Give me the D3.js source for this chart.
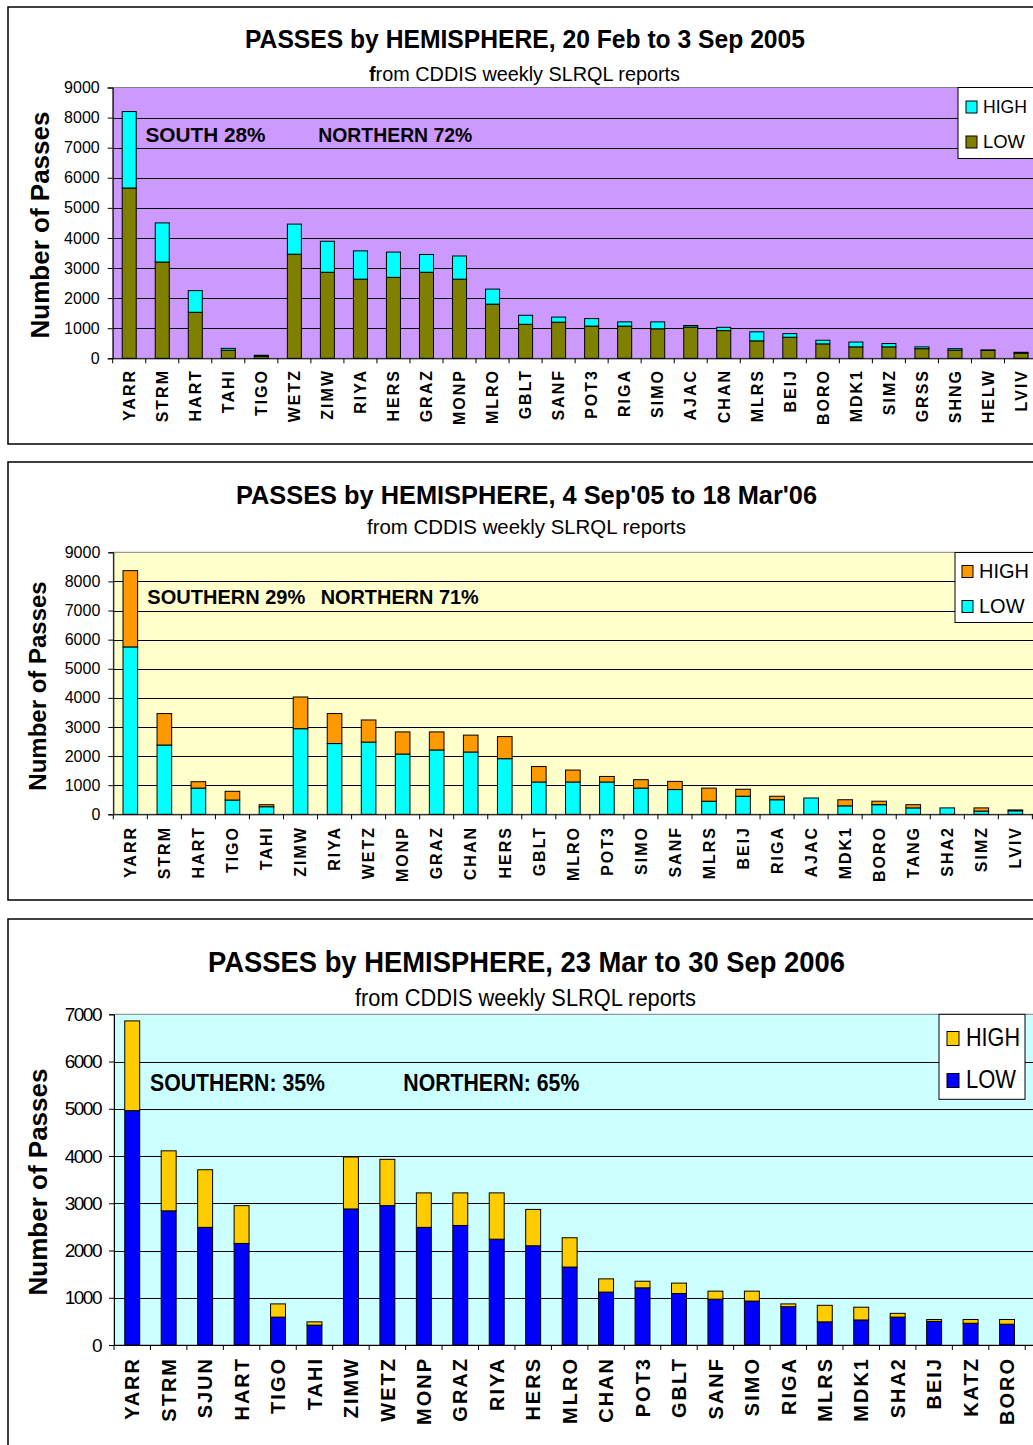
<!DOCTYPE html>
<html><head><meta charset="utf-8">
<script src="https://cdn.jsdelivr.net/npm/d3@7"></script>
<style>
body{margin:0;background:#fff;overflow:hidden}
svg{display:block}
text{font-family:"Liberation Sans",Arial,sans-serif;fill:#000}
</style>
</head><body>
<svg id="c" width="1033" height="1445"></svg>
<script>
// ---------- DATA ----------
const seriesNames = ["HIGH", "LOW"];

const c1Stations = ["YARR","STRM","HART","TAHI","TIGO","WETZ","ZIMW","RIYA","HERS","GRAZ","MONP","MLRO","GBLT","SANF","POT3","RIGA","SIMO","AJAC","CHAN","MLRS","BEIJ","BORO","MDK1","SIMZ","GRSS","SHNG","HELW","LVIV"];
const c1Low  = [5660,3200,1530,270,70,3460,2860,2630,2690,2860,2630,1800,1130,1200,1070,1070,980,1040,920,580,700,480,380,380,320,270,260,170];
const c1High = [2540,1300,720,60,30,1000,1030,940,840,590,770,500,300,170,250,140,230,50,110,300,120,120,160,110,60,50,20,30];
const c1YTicks = [0,1000,2000,3000,4000,5000,6000,7000,8000,9000];
const c1Title = "PASSES by HEMISPHERE, 20 Feb to 3 Sep 2005";
const c1Notes = ["SOUTH  28%", "NORTHERN 72%"];

const c2Stations = ["YARR","STRM","HART","TIGO","TAHI","ZIMW","RIYA","WETZ","MONP","GRAZ","CHAN","HERS","GBLT","MLRO","POT3","SIMO","SANF","MLRS","BEIJ","RIGA","AJAC","MDK1","BORO","TANG","SHA2","SIMZ","LVIV"];
const c2Low  = [5750,2380,900,490,260,2940,2430,2480,2070,2210,2140,1910,1110,1110,1110,900,850,450,620,500,560,290,330,220,220,110,120];
const c2High = [2620,1080,220,300,70,1090,1030,760,760,620,580,760,530,410,190,290,280,450,240,120,0,210,120,110,0,110,30];
const c2YTicks = [0,1000,2000,3000,4000,5000,6000,7000,8000,9000];
const c2Title = "PASSES by HEMISPHERE, 4 Sep'05 to 18 Mar'06";
const c2Notes = ["SOUTHERN 29%", "NORTHERN 71%"];

const c3Stations = ["YARR","STRM","SJUN","HART","TIGO","TAHI","ZIMW","WETZ","MONP","GRAZ","RIYA","HERS","MLRO","CHAN","POT3","GBLT","SANF","SIMO","RIGA","MLRS","MDK1","SHA2","BEIJ","KATZ","BORO"];
const c3Low  = [4960,2840,2490,2150,590,420,2880,2950,2490,2530,2240,2100,1650,1120,1210,1090,970,930,810,490,530,590,500,460,440];
const c3High = [1900,1270,1220,800,280,70,1100,980,730,690,980,770,620,280,140,220,170,210,60,350,270,80,40,80,100];
const c3YTicks = [0,1000,2000,3000,4000,5000,6000,7000];
const c3Title = "PASSES by HEMISPHERE,  23 Mar to 30 Sep 2006";
const c3Notes = ["SOUTHERN: 35%", "NORTHERN: 65%"];

const subTitle = "from CDDIS weekly SLRQL reports";
const yAxisTitle = "Number of Passes";

// ---------- LAYOUT ----------
const svg = d3.select("#c");

function drawChart(cfg) {
  const g = svg.append("g");
  g.append("rect").attr("x", 8).attr("y", cfg.panelY).attr("width", 1100).attr("height", cfg.panelH)
    .attr("fill", "#fff").attr("stroke", "#000").attr("stroke-width", 1.5);

  const n = cfg.stations.length;
  const right = cfg.left + n * cfg.step;
  const yMax = cfg.yTicks[cfg.yTicks.length - 1];
  const y = d3.scaleLinear().domain([0, yMax]).range([cfg.bottom, cfg.top]);
  const xb = d3.scaleBand().domain(cfg.stations).range([cfg.left, right]).paddingInner(0).paddingOuter(0);
  const pi = 1 - cfg.barFrac;
  const xBar = d3.scaleBand().domain(cfg.stations).range([cfg.left, right]).paddingInner(pi).paddingOuter(pi / 2);

  g.append("rect").attr("x", cfg.left).attr("y", cfg.top).attr("width", right - cfg.left + 20)
    .attr("height", cfg.bottom - cfg.top).attr("fill", cfg.bg).attr("stroke", "#808080").attr("stroke-width", 1);

  g.append("g").selectAll("line").data(cfg.yTicks.filter(t => t > 0 && t < yMax)).join("line")
    .attr("x1", cfg.left).attr("x2", right + 20)
    .attr("y1", d => Math.round(y(d)) + 0.5).attr("y2", d => Math.round(y(d)) + 0.5)
    .attr("stroke", "#000").attr("stroke-width", 1);

  const rows = cfg.stations.map((s, i) => ({ s, low: cfg.low[i], high: cfg.high[i] }));
  const stack = d3.stack().keys(["low", "high"])(rows);
  const colorOf = { low: cfg.lowColor, high: cfg.highColor };
  stack.forEach(layer => {
    g.append("g").selectAll("rect").data(layer.filter(d => d[1] > d[0])).join("rect")
      .attr("x", d => xBar(d.data.s)).attr("width", xBar.bandwidth())
      .attr("y", d => y(d[1])).attr("height", d => y(d[0]) - y(d[1]))
      .attr("fill", colorOf[layer.key]).attr("stroke", "#000").attr("stroke-width", 1);
  });

  const ya = g.append("g").attr("transform", `translate(${cfg.left},0)`)
    .call(d3.axisLeft(y).tickValues(cfg.yTicks).tickSize(5).tickPadding(cfg.yTickPad).tickFormat(d3.format("d")));
  ya.select(".domain").attr("stroke", "#000");
  ya.selectAll(".tick line").attr("stroke", "#000");
  ya.selectAll(".tick text").style("font-family", '"Liberation Sans",Arial,sans-serif')
    .style("font-size", cfg.yTickSize + "px").style("letter-spacing", cfg.yTickLs + "px").attr("fill", "#000");

  g.append("line").attr("x1", cfg.left).attr("x2", right + 20).attr("y1", cfg.bottom + 0.5).attr("y2", cfg.bottom + 0.5).attr("stroke", "#000");
  const bounds = cfg.stations.map(s => xb(s)).concat([right]);
  g.append("g").selectAll("line").data(bounds).join("line")
    .attr("x1", d => d).attr("x2", d => d).attr("y1", cfg.bottom).attr("y2", cfg.bottom + 5).attr("stroke", "#000");

  g.append("g").selectAll("text").data(cfg.stations).join("text")
    .attr("transform", d => `translate(${xb(d) + xb.bandwidth() / 2},${cfg.xLabTop}) rotate(-90)`)
    .attr("text-anchor", "end").attr("dy", "0.36em")
    .style("font-size", cfg.xLabSize + "px").style("font-weight", "bold").style("letter-spacing", cfg.xLabLs + "px")
    .text(d => d);

  g.append("text").attr("transform", `translate(${cfg.yTitleX},${cfg.yTitleCy}) rotate(-90)`)
    .attr("text-anchor", "middle").style("font-size", cfg.yTitleSize + "px").style("font-weight", "bold")
    .text(yAxisTitle);

  g.append("text").attr("x", cfg.titleX).attr("y", cfg.titleY)
    .attr("textLength", cfg.titleLen).attr("lengthAdjust", "spacingAndGlyphs")
    .style("font-size", cfg.titleSize + "px").style("font-weight", "bold").text(cfg.title);
  const st = g.append("text").attr("x", cfg.subX).attr("y", cfg.subY)
    .attr("textLength", cfg.subLen).attr("lengthAdjust", "spacingAndGlyphs")
    .style("font-size", cfg.subSize + "px");
  if (cfg.boldF) {
    st.append("tspan").style("font-weight", "bold").text(subTitle.slice(0, 1));
    st.append("tspan").text(subTitle.slice(1));
  } else st.text(subTitle);

  cfg.notes.forEach((t, i) => {
    g.append("text").attr("x", cfg.noteX[i]).attr("y", cfg.noteY)
      .attr("textLength", cfg.noteLen[i]).attr("lengthAdjust", "spacingAndGlyphs")
      .style("font-size", cfg.noteSize + "px").style("font-weight", "bold").text(t);
  });

  const L = cfg.legend;
  g.append("rect").attr("x", L.x).attr("y", L.y).attr("width", L.w).attr("height", L.h)
    .attr("fill", "#fff").attr("stroke", "#000").attr("stroke-width", 1);
  const legColors = [cfg.highColor, cfg.lowColor];
  seriesNames.forEach((name, i) => {
    g.append("rect").attr("x", L.swX).attr("y", L.rowY[i] - L.sw).attr("width", L.swW).attr("height", L.sw)
      .attr("fill", legColors[i]).attr("stroke", "#000").attr("stroke-width", 1);
    const t = g.append("text").attr("x", L.textX).attr("y", L.rowY[i])
      .style("font-size", L.size + "px").text(name);
    if (L.len) t.attr("textLength", L.len[i]).attr("lengthAdjust", "spacingAndGlyphs");
  });
}

drawChart({
  stations: c1Stations, low: c1Low, high: c1High, yTicks: c1YTicks, title: c1Title, notes: c1Notes,
  panelY: 7, panelH: 437,
  left: 112.7, top: 87.5, bottom: 358.3, step: 33.03, barFrac: 0.424,
  bg: "#CC99FF", lowColor: "#808000", highColor: "#00FFFF",
  yTickSize: 16, yTickLs: 0, yTickPad: 8,
  xLabTop: 369, xLabSize: 16, xLabLs: 2,
  yTitleX: 49, yTitleCy: 225, yTitleSize: 26,
  titleX: 245, titleY: 48, titleLen: 560, titleSize: 26,
  subX: 369, subY: 81, subLen: 311, subSize: 20, boldF: true,
  noteX: [145.5, 318.3], noteY: 142, noteLen: [120, 154], noteSize: 20,
  legend: { x: 958, y: 87.5, w: 100, h: 71, swX: 966, swW: 11, sw: 12, rowY: [113, 148], textX: 983, size: 19, len: [44, 42] }
});

drawChart({
  stations: c2Stations, low: c2Low, high: c2High, yTicks: c2YTicks, title: c2Title, notes: c2Notes,
  panelY: 462, panelH: 438,
  left: 113.3, top: 552.3, bottom: 814.3, step: 34.04, barFrac: 0.43,
  bg: "#FFFFCC", lowColor: "#00FFFF", highColor: "#FF9900",
  yTickSize: 16, yTickLs: 0, yTickPad: 8,
  xLabTop: 826, xLabSize: 16, xLabLs: 2,
  yTitleX: 46, yTitleCy: 686, yTitleSize: 24,
  titleX: 236, titleY: 504, titleLen: 581, titleSize: 26,
  subX: 367, subY: 534, subLen: 319, subSize: 20, boldF: false,
  noteX: [147.3, 320.7], noteY: 604, noteLen: [158, 158], noteSize: 21,
  legend: { x: 955, y: 552.5, w: 100, h: 70, swX: 962, swW: 11, sw: 12, rowY: [577.5, 612.5], textX: 979, size: 20 }
});

drawChart({
  stations: c3Stations, low: c3Low, high: c3High, yTicks: c3YTicks, title: c3Title, notes: c3Notes,
  panelY: 919, panelH: 560,
  left: 114, top: 1014.3, bottom: 1345, step: 36.45, barFrac: 0.41,
  bg: "#CCFFFF", lowColor: "#0000FF", highColor: "#FFCC00",
  yTickSize: 19, yTickLs: -1.5, yTickPad: 8,
  xLabTop: 1357, xLabSize: 20, xLabLs: 2,
  yTitleX: 47, yTitleCy: 1182, yTitleSize: 26,
  titleX: 208, titleY: 972, titleLen: 637, titleSize: 30,
  subX: 355, subY: 1006, subLen: 341, subSize: 23, boldF: false,
  noteX: [150, 403.3], noteY: 1091, noteLen: [175, 176], noteSize: 23,
  legend: { x: 939, y: 1014.3, w: 86, h: 85, swX: 947, swW: 12, sw: 14, rowY: [1045.5, 1087.5], textX: 966, size: 26, len: [54, 50] }
});
</script>
</body></html>
